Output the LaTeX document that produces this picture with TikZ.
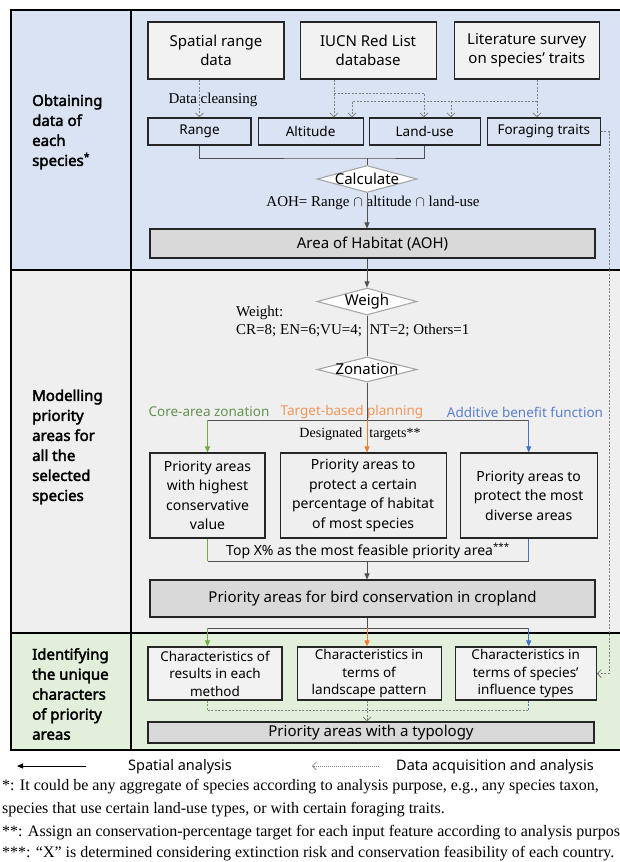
\documentclass[tikz,border=0pt]{standalone}
\usepackage{fontspec}
\setmainfont{Liberation Serif}
\setsansfont{Noto Sans}[AutoFakeBold=2.5]
\usepackage{xcolor}
\usetikzlibrary{shapes.geometric, arrows.meta, positioning, calc}
\definecolor{bgblue}{HTML}{DAE3F3}
\definecolor{bggray}{HTML}{EFEFEF}
\definecolor{bggreen}{HTML}{E2EFDA}
\definecolor{lightbox}{HTML}{F2F2F2}
\definecolor{darkbox}{HTML}{D9D9D9}
\definecolor{cgreen}{HTML}{70AD47}
\definecolor{corange}{HTML}{ED7D31}
\definecolor{cblue}{HTML}{4472C4}
\definecolor{tgreen}{HTML}{62934F}
\definecolor{torange}{HTML}{F2955C}
\definecolor{tblue}{HTML}{5A80CC}
\definecolor{linegray}{HTML}{505050}
\definecolor{dashgray}{HTML}{7F7F7F}
\newcommand{\fsz}[2]{\fontsize{#1}{#2}\selectfont}

\begin{document}
\begin{tikzpicture}[x=1pt, y=-1pt,
    box/.style={draw=black!85, line width=1.1pt, inner sep=0pt, align=center},
    srcbox/.style={box, fill=lightbox, minimum height=57pt, font=\sffamily\fsz{15}{19}},
    databox/.style={box, minimum height=27pt, font=\sffamily\fsz{13.5}{17}},
    resbox/.style={box, fill=bggray, minimum height=85pt, font=\sffamily\fsz{14}{19.5}},
    charbox/.style={box, fill=lightbox, minimum height=53pt, font=\sffamily\fsz{13.5}{17.5}},
    bigbox/.style={box, fill=darkbox, minimum width=445pt, font=\sffamily\fsz{15}{19}},
    diam/.style={diamond, draw=gray!70, line width=1.1pt, fill=white, inner sep=0pt,
      minimum width=100pt, minimum height=27pt, font=\sffamily\fsz{15}{19}},
    section/.style={anchor=west, align=left, inner sep=0pt, font=\sffamily\bfseries\fsz{15}{20}},
    note/.style={inner sep=0pt, font=\fsz{15}{18}},
    meth/.style={inner sep=0pt, font=\sffamily\fsz{13.5}{16}},
    legtext/.style={inner sep=0pt, font=\sffamily\fsz{14.5}{18}},
    foot/.style={anchor=base west, inner sep=0pt, font=\fsz{16}{20}},
    link/.style={draw=linegray, line width=0.9pt},
    arr/.style={link, -{Triangle[length=6pt, width=5pt]}},
    datalink/.style={draw=dashgray, line width=0.8pt, dash pattern=on 2pt off 1.5pt},
    dataarr/.style={datalink, -{Straight Barb[length=4pt, width=8pt]}}
  ]
    \useasboundingbox (0,0) rectangle (619,862);

    \fill[bgblue] (11,10) rectangle (640,270);
    \fill[bggray] (11,270) rectangle (640,633);
    \fill[bggreen] (11,633) rectangle (640,750);
    \draw[line width=1.3pt] (640,10) -- (11,10) -- (11,750) -- (640,750);
    \draw[line width=1.3pt] (131,10) -- (131,750);
    \draw[line width=1.3pt] (11,270) -- (640,270);
    \draw[line width=1.3pt] (11,633) -- (640,633);

    \node[section] (obtain) at (32,132) {Obtaining\\data of\\each\\species\textsuperscript{*}};
    \node[section] (model) at (32,447) {Modelling\\priority\\areas for\\all the\\selected\\species};
    \node[section] (ident) at (32,694) {Identifying\\the unique\\characters\\of priority\\areas};

    \node[srcbox, minimum width=136pt] (spatial) at (216,50.5) {Spatial range\\data};
    \node[srcbox, minimum width=136pt, right=15pt of spatial] (iucn) {IUCN Red List\\database};
    \node[srcbox, minimum width=145pt, right=17pt of iucn] (lit) {Literature survey\\on species' traits};

    \node[databox, minimum width=103pt] (range) at (199.5,131.5) {Range};
    \node[databox, minimum width=105pt, right=6pt of range] (alt) {Altitude};
    \node[databox, minimum width=111pt, right=5pt of alt] (landuse) {Land-use};
    \node[databox, minimum width=113pt, right=6pt of landuse] (forage) {Foraging traits};

    \coordinate (iucnsplit) at (334,93);
    \coordinate (iucnland) at (424,93);
    \coordinate (litsplit) at (537,101);
    \coordinate (litalt) at (352,101);
    \coordinate (litland) at (451,101);
    \draw[dataarr] (spatial.south -| range) -- (range);
    \node[note] (cleanse) at (213,100) {Data cleansing};
    \draw[dataarr] (iucn.south -| iucnsplit) -- (alt.north -| iucnsplit);
    \draw[dataarr] (iucnsplit) -| (landuse.north -| iucnland);
    \draw[dataarr] (lit.south -| litsplit) -- (forage.north -| litsplit);
    \draw[dataarr] (litsplit) -| (alt.north -| litalt);
    \draw[dataarr] (litland) -- (landuse.north -| litland);

    \coordinate (join) at (367,158);
    \draw[link] (range) |- (join) -| (landuse);
    \node[diam] (calc) at (367,179) {\makebox[0pt]{Calculate}};
    \draw[link] (join) -- (calc);
    \node[note] (aohrule) at (373,203) {AOH= Range $\cap$ altitude $\cap$ land-use};
    \node[bigbox, minimum height=29pt] (aoh) at (372.5,243.5) {Area of Habitat (AOH)};
    \draw[arr] (calc) -- (calc |- aoh.north);

    \node[diam] (weigh) at (367,301.5) {\makebox[0pt]{Weigh}};
    \draw[arr] (aoh.south -| weigh) -- (weigh);
    \node[note, anchor=west, align=left] (weights) at (236,321) {Weight:\\CR=8; EN=6;VU=4;\ \ NT=2; Others=1};
    \node[diam, minimum height=25pt] (zon) at (367,369.5) {\makebox[0pt]{Zonation}};
    \draw[link] (weigh) -- (zon);

    \coordinate (split) at (367,420);
    \draw[link] (zon) -- (split);
    \node[meth, text=tgreen] (core) at (209,412) {Core-area zonation};
    \node[meth, text=torange] (target) at (352,412) {Target-based planning};
    \node[meth, text=tblue] (additive) at (525,412) {Additive benefit function};

    \node[resbox, minimum width=115pt] (highest) at (207.5,495.5) {Priority areas\\with highest\\conservative\\value};
    \node[resbox, minimum width=166pt, right=14pt of highest] (percent) {Priority areas to\\protect a certain\\percentage of habitat\\of most species};
    \node[resbox, minimum width=137pt, right=13pt of percent] (diverse) {Priority areas to\\protect the most\\diverse areas};

    \draw[link] (highest |- split) -- (diverse |- split);
    \draw[arr, draw=cgreen] (highest |- split) -- (highest);
    \draw[arr, draw=corange] (split) -- (split |- percent.north);
    \draw[arr, draw=cblue] (diverse |- split) -- (diverse);
    \node[note, font=\fsz{14}{16}] (desig) at (360,434) {Designated\ \ targets**};

    \coordinate (merge) at (367,561);
    \node[meth, font=\sffamily\fsz{14}{16}] (topx) at (368,551) {Top X\% as the most feasible priority area\textsuperscript{***}};
    \draw[link, draw=cgreen] (highest) -- (highest |- merge);
    \draw[link, draw=cblue] (diverse) -- (diverse |- merge);
    \draw[link] (highest |- merge) -- (diverse |- merge);
    \node[bigbox, minimum height=37pt] (crop) at (372.5,598.5) {Priority areas for bird conservation in cropland};
    \draw[arr] (merge) -- (merge |- crop.north);

    \coordinate (split2) at (367,628);
    \node[charbox, minimum width=134pt] (results) at (215,673.5) {Characteristics of\\results in each\\method};
    \node[charbox, minimum width=144pt, right=14pt of results] (landscape) {Characteristics in\\terms of\\landscape pattern};
    \node[charbox, minimum width=141pt, right=13pt of landscape] (influence) {Characteristics in\\terms of species'\\influence types};
    \draw[link] (crop.south -| split2) -- (split2);
    \draw[link] (highest |- split2) -- (diverse |- split2);
    \draw[arr, draw=cgreen] (highest |- split2) -- (highest |- results.north);
    \draw[arr, draw=corange] (split2) -- (split2 |- landscape.north);
    \draw[arr, draw=cblue] (diverse |- split2) -- (diverse |- influence.north);

    \coordinate (merge2) at (367,710);
    \node[bigbox, minimum width=446pt, minimum height=21pt] (typology) at (371,732.5) {Priority areas with a typology};
    \draw[datalink, draw=cgreen] (results.south -| highest) -- (merge2 -| highest);
    \draw[datalink, draw=cblue] (influence.south -| diverse) -- (merge2 -| diverse);
    \draw[datalink] (merge2 -| highest) -- (merge2 -| diverse);
    \draw[dataarr] (landscape.south -| merge2) -- (typology.north -| merge2);

    \coordinate (side) at (609,131.5);
    \draw[dataarr] (forage.east) -- (side) |- (influence.east);

    \coordinate (legsolid) at (86,766);
    \coordinate (legsolidend) at (17,766);
    \draw[arr, draw=black] (legsolid) -- (legsolidend);
    \node[legtext] (spatialleg) at (180,767) {Spatial analysis};
    \coordinate (legdash) at (379,766);
    \coordinate (legdashend) at (312,766);
    \draw[dataarr, line width=0.6pt, dash pattern=on 1pt off 1pt] (legdash) -- (legdashend);
    \node[legtext] (dataleg) at (495,767) {Data acquisition and analysis};

    \node[foot] (foot1) at (2,790) {*: It could be any aggregate of species according to analysis purpose, e.g., any species taxon,};
    \node[foot] (foot2) at (2,813) {species that use certain land-use types, or with certain foraging traits.};
    \node[foot] (foot3) at (2,836) {**: Assign an conservation-percentage target for each input feature according to analysis purpose.};
    \node[foot] (foot4) at (2,857.5) {***: ``X'' is determined considering extinction risk and conservation feasibility of each country.};
\end{tikzpicture}
\end{document}
